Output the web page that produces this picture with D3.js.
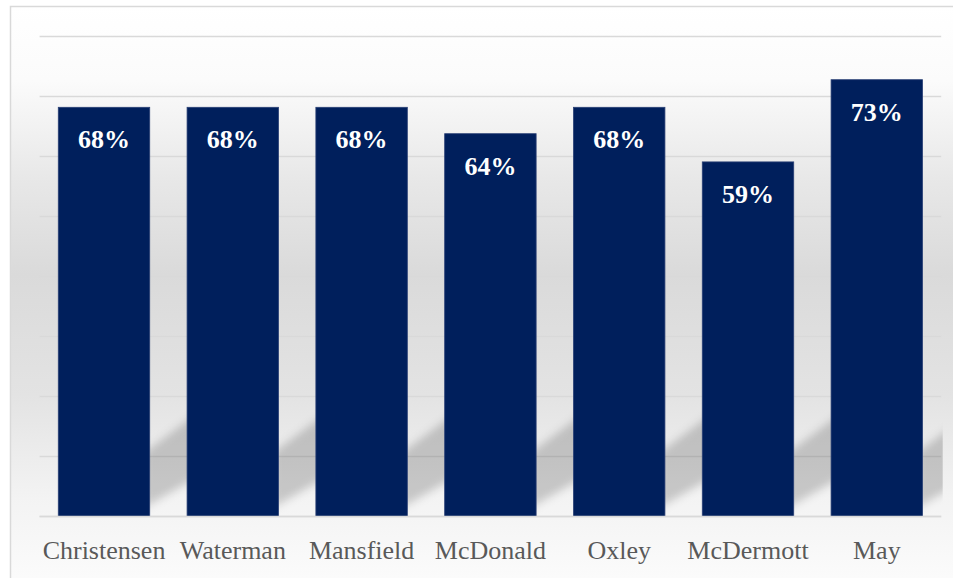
<!DOCTYPE html>
<html>
<head>
<meta charset="utf-8">
<script src="https://cdn.jsdelivr.net/npm/d3@7"></script>
<style>
  html, body { margin: 0; padding: 0; background: #fff; }
  svg { display: block; }
</style>
</head>
<body>
<svg id="chart" width="953" height="578"></svg>
<script>
// data
let names = ['Christensen', 'Waterman', 'Mansfield', 'McDonald', 'Oxley', 'McDermott', 'May'];
let shares = [68.2, 68.2, 68.2, 63.8, 68.2, 59.1, 72.8];
let gridValues = [0, 10, 20, 30, 40, 50, 60, 70, 80];

let width = 953, height = 578;
let plot = {left: 39.6, right: 941.2, top: 36.5, bottom: 516.5};

let svg = d3.select('#chart');
let defs = svg.append('defs');

// background gradient: white at top, grey in the middle, pale again at the bottom
let bg = defs.append('linearGradient')
	.attr('id', 'bg')
	.attr('gradientUnits', 'userSpaceOnUse')
	.attr('x1', 0).attr('y1', 6)
	.attr('x2', 0).attr('y2', 578);
[[0, '#ffffff'], [0.13, '#fbfbfb'], [0.3, '#e8e8e8'], [0.47, '#dadada'],
 [0.68, '#e3e3e3'], [0.86, '#f3f3f3'], [1, '#fbfbfb']].forEach(function(s) {
	bg.append('stop').attr('offset', s[0]).attr('stop-color', s[1]);
});

let blur = defs.append('filter')
	.attr('id', 'blur')
	.attr('x', '-20%').attr('y', '-20%')
	.attr('width', '140%').attr('height', '140%');
blur.append('feGaussianBlur').attr('stdDeviation', 4);

defs.append('clipPath')
	.attr('id', 'plotclip')
	.append('rect')
	.attr('x', plot.left).attr('y', 0)
	.attr('width', plot.right - plot.left + 1.5)
	.attr('height', plot.bottom);

svg.append('rect')
	.attr('x', 10.5).attr('y', 6.5)
	.attr('width', 960).attr('height', 600)
	.attr('fill', 'url(#bg)')
	.attr('stroke', '#d9d9d9')
	.attr('stroke-width', 1.5);

let x = d3.scaleBand()
	.domain(names)
	.range([plot.left, plot.right])
	.paddingInner(0.29)
	.paddingOuter(0.145);

let y = d3.scaleLinear()
	.domain([0, 80])
	.range([plot.bottom, plot.top]);

// gridlines
svg.append('g')
	.selectAll('line')
	.data(gridValues)
	.join('line')
	.attr('x1', plot.left)
	.attr('x2', plot.right)
	.attr('y1', d => y(d))
	.attr('y2', d => y(d))
	.attr('stroke', '#d9d9d9')
	.attr('stroke-width', 1.5);

// perspective shadows behind the bars
svg.append('g')
	.attr('clip-path', 'url(#plotclip)')
	.selectAll('polygon')
	.data(names)
	.join('polygon')
	.attr('points', function(d) {
		let x1 = x(d) + x.bandwidth();
		return [[x1 - 6, y(10.6)], [x1 + 46, y(17)], [x1 + 46, y(6.4)], [x1 - 6, y(1.4)]]
			.map(p => p.join(',')).join(' ');
	})
	.attr('fill', '#000')
	.attr('fill-opacity', 0.18)
	.attr('filter', 'url(#blur)');

// bars
svg.append('g')
	.selectAll('rect')
	.data(shares)
	.join('rect')
	.attr('x', (d, i) => x(names[i]))
	.attr('y', d => y(d))
	.attr('width', x.bandwidth())
	.attr('height', d => y(0) - y(d))
	.attr('fill', '#001f5c')
	.attr('stroke', '#2a4075')
	.attr('stroke-width', 0.8);

// data labels
svg.append('g')
	.selectAll('text')
	.data(shares)
	.join('text')
	.attr('x', (d, i) => x(names[i]) + x.bandwidth() / 2)
	.attr('y', d => y(d) + 41)
	.attr('text-anchor', 'middle')
	.attr('fill', '#ffffff')
	.style('font-family', '"Liberation Serif", "Times New Roman", serif')
	.style('font-weight', 'bold')
	.style('font-size', '26px')
	.text(d => Math.round(d) + '%');

// category axis
let xAxis = svg.append('g')
	.attr('transform', 'translate(0,' + plot.bottom + ')')
	.call(d3.axisBottom(x).tickSize(0).tickPadding(24));
xAxis.select('.domain')
	.attr('stroke', '#d9d9d9')
	.attr('stroke-width', 1.5)
	.attr('d', 'M' + plot.left + ',0H' + plot.right);
xAxis.selectAll('text')
	.attr('fill', '#595959')
	.style('font-family', '"Liberation Serif", "Times New Roman", serif')
	.style('font-size', '26px');
</script>
</body>
</html>
